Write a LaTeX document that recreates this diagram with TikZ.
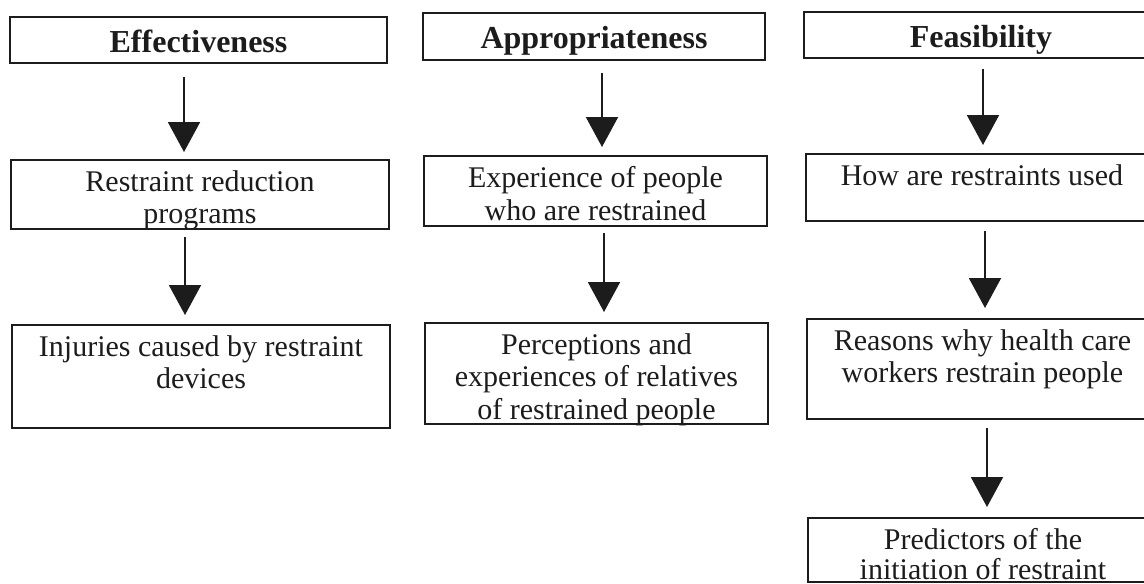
\documentclass[tikz,border=0pt]{standalone}
\usepackage{fontspec}
\setmainfont{Liberation Serif}
\usetikzlibrary{arrows.meta}
\definecolor{ink}{HTML}{1C1C1C}
\newcommand\bodytxt[3]{\parbox[c][#2pt][t]{#1pt}{\vspace*{10.5pt}\centering\fontsize{30}{32.5}\selectfont #3\par}}
\newcommand\headtxt[3]{\parbox[c][#2pt][t]{#1pt}{\vspace*{13pt}\centering\fontsize{32}{34}\selectfont\bfseries #3\par}}
\begin{document}
\begin{tikzpicture}[x=1pt,y=-1pt,
  box/.style={draw=ink, line width=2.8pt, inner sep=0pt, outer sep=0pt, anchor=north west, text=ink},
  arr/.style={draw=ink, line width=2pt, -{Triangle[width=32pt,length=30pt]}}]
\useasboundingbox (0,0) rectangle (1144,584);
\clip (0,0) rectangle (1144,584);
% column 1
\node[box] (h1)  at (10,17)  {\headtxt{377}{46}{Effectiveness}};
\node[box] (b1a) at (11,160) {\bodytxt{378}{69}{Restraint reduction\\programs}};
\node[box] (b1b) at (12,325) {\bodytxt{378}{103}{Injuries caused by restraint\\devices}};
% column 2
\node[box] (h2)  at (423,13)  {\headtxt{342}{47}{Appropriateness}};
\node[box] (b2a) at (424,156) {\bodytxt{343}{70}{Experience of people\\who are restrained}};
\node[box] (b2b) at (425,323) {\bodytxt{343}{101}{Perceptions and\\experiences of relatives\\of restrained people}};
% column 3
\node[box] (h3)  at (804,12)  {\headtxt{354}{46}{Feasibility}};
\node[box] (b3a) at (806,154) {\bodytxt{352}{67}{How are restraints used}};
\node[box] (b3b) at (807,319) {\bodytxt{351}{100}{Reasons why health care\\workers restrain people}};
\node[box] (b3c) at (808,518) {\bodytxt{350}{64}{Predictors of the\\[-3pt]initiation of restraint}};
% arrows
\draw[arr, shorten <=14pt, shorten >=8pt] ([xshift=-14.5pt]h1.south) -- ([xshift=-14.5pt]h1.south |- b1a.north);
\draw[arr, shorten <=8pt, shorten >=10pt] ([xshift=-15pt]b1a.south) -- ([xshift=-15pt]b1a.south |- b1b.north);
\draw[arr, shorten <=13pt, shorten >=9pt] ([xshift=8pt]h2.south) -- ([xshift=8pt]h2.south |- b2a.north);
\draw[arr, shorten <=7pt, shorten >=11pt] ([xshift=8.5pt]b2a.south) -- ([xshift=8.5pt]b2a.south |- b2b.north);
\draw[arr, shorten <=11pt, shorten >=9pt] ([xshift=2pt]h3.south) -- ([xshift=2pt]h3.south |- b3a.north);
\draw[arr, shorten <=10pt, shorten >=11pt] ([xshift=3pt]b3a.south) -- ([xshift=3pt]b3a.south |- b3b.north);
\draw[arr, shorten <=9pt, shorten >=11pt] ([xshift=4.5pt]b3b.south) -- ([xshift=4.5pt]b3b.south |- b3c.north);
\end{tikzpicture}
\end{document}
